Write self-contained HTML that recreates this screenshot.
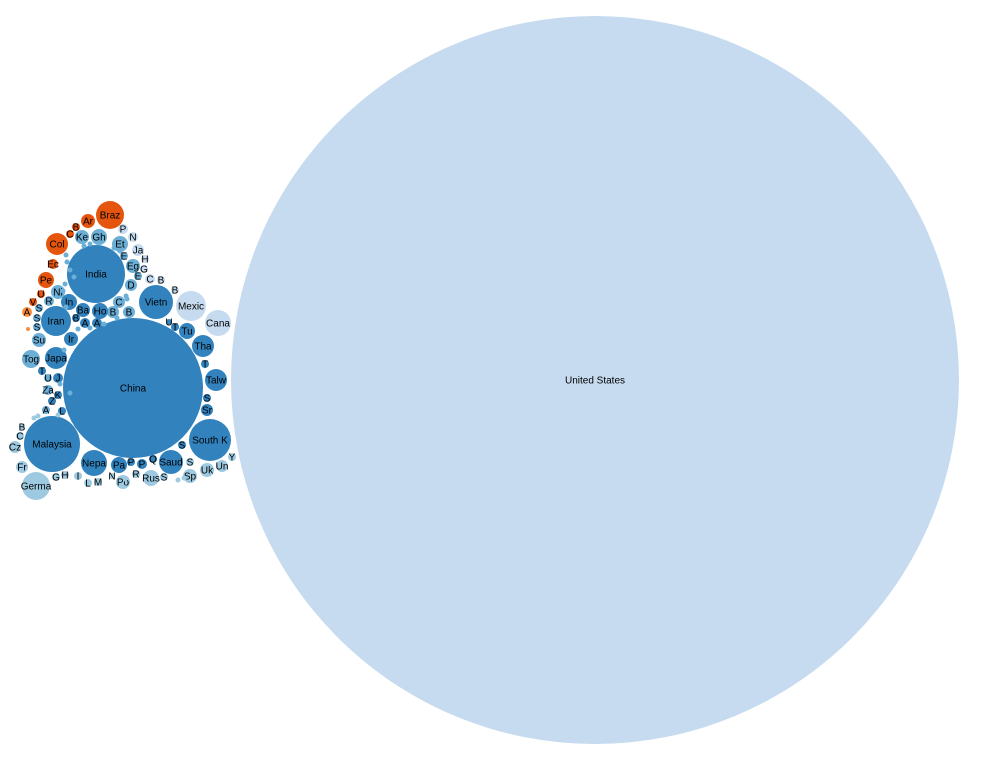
<!DOCTYPE html>
<html><head><meta charset="utf-8"><style>
html,body{margin:0;padding:0;background:#fff;width:991px;height:768px;overflow:hidden}
svg{display:block}
text{font-family:"Liberation Sans",sans-serif;font-size:10px;text-anchor:middle;fill:#000}
</style></head><body>
<svg id="chart" width="991" height="768"></svg>
<script>
// labels (as displayed), values (area units), color group, layout positions
const labels=["United States","China","India","Malaysia","South K","Vietn","Iran","Mexic","Cana","Braz","Col","Germa","Nepa","Saud","Tha","Talw","Japa",
"Ar","B","C","Ke","Gh","P","N","Et","Ja","E","H","Eg","G","E","C","B","D","B","C","B","B","Ho","Ba","A","A","B","In","Ni","R","S","S","S","Su","Ir","Ec","Pe","U","V","A","","U","T","Tu",
"Tog","T","U","J","Za","K","Z","A","L","B","C","Cz","Fr","G","H","I","L","M","N","Po","Pa","P","P","Q","R","Rus","S","Sp","S","Uk","Un","Y","S","Sr","S","T"];
const values=[132496,4900,841,784,441,289,225,225,169,196,121,196,169,144,121,121,121,
49,16,16,49,64,25,25,64,36,16,16,49,16,16,25,16,36,16,36,36,36,64,49,25,25,16,64,49,25,16,16,16,49,49,25,64,16,16,25,4,9,16,64,
81,16,16,25,25,16,16,16,16,9,16,36,36,16,16,16,16,16,9,49,64,16,25,16,16,64,16,49,16,49,36,16,16,36,16,16];
const groups=[3,0,0,0,0,0,0,3,3,4,4,2,0,0,0,0,0,
4,4,4,1,1,3,3,1,3,1,3,1,3,1,3,3,1,3,1,1,1,0,0,0,0,0,0,1,1,1,1,1,1,0,4,4,4,4,5,5,0,0,0,
1,0,1,0,1,0,0,1,0,2,2,2,2,2,2,2,2,2,2,2,0,0,0,0,2,2,2,2,2,2,2,2,0,0,0,0];
const layoutX=[595,133,96,52,210,156,56,191,218,110,57,36,94,171,203,216,56,
88,76,70,82,99,123,133,120,138,124,145,133,144,138,150,161,131,175,119,113,129,100,83,85,97,76,69,58,49,39,37,37,39,71,53,46,41,33,27,28,169,175,187,
31,42,48,58,48,58,52,46,62,22,20,15,22,56,65,78,88,98,112,123,119,131,142,153,136,151,164,190,190,207,222,232,182,207,207,205];
const layoutY=[380,388,274,444,440,302,321,306,323,215,244,486,463,462,346,380,358,
221,227,234,237,237,229,237,244,250,256,259,266,269,276,279,280,285,290,302,312,312,311,310,323,323,318,302,292,301,308,318,327,340,339,264,280,294,302,312,329,322,327,331,
359,371,378,378,390,395,401,410,411,427,436,447,467,477,475,476,483,482,476,482,465,462,464,459,474,478,477,476,462,470,466,457,445,410,398,364];
const palette=["#3182bd","#6baed6","#9ecae1","#c6dbef","#e6550d","#fd8d3c"];
const svg=document.getElementById('chart');
const NS='http://www.w3.org/2000/svg';
function rScale(v){return Math.sqrt(v);}
labels.forEach((lab,i)=>{
  const g=document.createElementNS(NS,'g');
  
  
  const c=document.createElementNS(NS,'circle');
  c.setAttribute('cx',layoutX[i]);c.setAttribute('cy',layoutY[i]);
  c.setAttribute('r',rScale(values[i]));c.setAttribute('fill',palette[groups[i]]);
  
  
  g.appendChild(c);
  if(lab){
    const t=document.createElementNS(NS,'text');
    t.setAttribute('x',layoutX[i]);t.setAttribute('y',layoutY[i]+3.5);
    t.textContent=lab;
    
    
    g.appendChild(t);
  }
  svg.appendChild(g);
});
// small filler dots along India perimeter
const dotX=[66,67,70,74,84,90,114,120,126,127,65,63,66,78,90,104,117,64,60,70,58,38,34,46,125,178,184];
const dotY=[255,262,270,277,246,244,248,251,296,299,284,291,307,329,328,324,318,350,384,393,415,416,418,480,479,480,478];
dotX.forEach((x,i)=>{
  const c=document.createElementNS(NS,'circle');
  c.setAttribute('cx',x);c.setAttribute('cy',dotY[i]);c.setAttribute('r',2.5);
  c.setAttribute('fill',i<20?'#6baed6':'#9ecae1');
  
  
  svg.appendChild(c);
});
</script>
</body></html>
